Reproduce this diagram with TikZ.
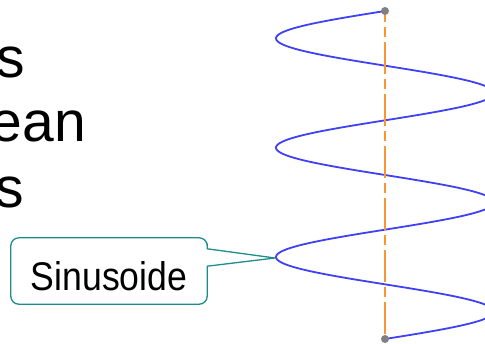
\documentclass[tikz,border=0pt]{standalone}
\usepackage{fontspec}
\setmainfont{Liberation Sans}
\newfontfamily\calloutfont[FakeStretch=0.89]{Liberation Sans}
\usepackage{tikz}
\usetikzlibrary{calc}
\definecolor{waveblue}{RGB}{64, 64, 245}
\definecolor{axisorange}{RGB}{250, 150, 50}
\definecolor{endgray}{RGB}{128, 128, 128}
\definecolor{calloutteal}{RGB}{30, 140, 140}

\begin{document}
\begin{tikzpicture}[x=1pt, y=-1pt,
    bigtext/.style={font=\fontsize{57}{68}\selectfont, inner sep=0pt, anchor=base east},
    calloutbox/.style={minimum width=196pt, minimum height=66pt, inner sep=0pt,
      text height=40pt, text depth=2pt, font=\calloutfont\fontsize{40}{48}\selectfont},
    wave/.style={waveblue, line width=1.8pt},
    axisline/.style={axisorange, line width=2pt, dash pattern=on 32pt off 5pt on 10pt off 5pt, dash phase=21pt},
    calloutline/.style={calloutteal, line width=1.3pt, line join=round}]
  \clip (0,0) rectangle (485,343);
  % Cut-off text lines
  \node[bigtext] (line1) at (25,77) {s};
  \node[bigtext] (line2) at (86,141) {ean};
  \node[bigtext] (line3) at (24,207) {s};
  % Sinusoid
  \draw[wave] plot[domain=11:339, samples=300, smooth, variable=\t]
    ({385-109*sin(3.2928*(\t-11))}, \t);
  % Axis with end points
  \coordinate (top) at (385,11);
  \coordinate (bot) at (385,339);
  \draw[axisline] (top) -- (bot);
  \fill[endgray] (top) circle[radius=4];
  \fill[endgray] (bot) circle[radius=4];
  % Callout
  \node[calloutbox] (sinbox) at (109,271) {Sinusoide};
  \coordinate (tip) at (275,258);
  \draw[calloutline] (tip) -- ($(sinbox.north east)+(0,11)$) -- ($(sinbox.north east)+(0,6)$)
    [rounded corners=8pt] -- (sinbox.north east) -- (sinbox.north west) -- (sinbox.south west)
    -- (sinbox.south east) -- ($(sinbox.south east)+(0,-20)$)
    [sharp corners] -- ($(sinbox.south east)+(0,-38)$) -- cycle;
\end{tikzpicture}
\end{document}
